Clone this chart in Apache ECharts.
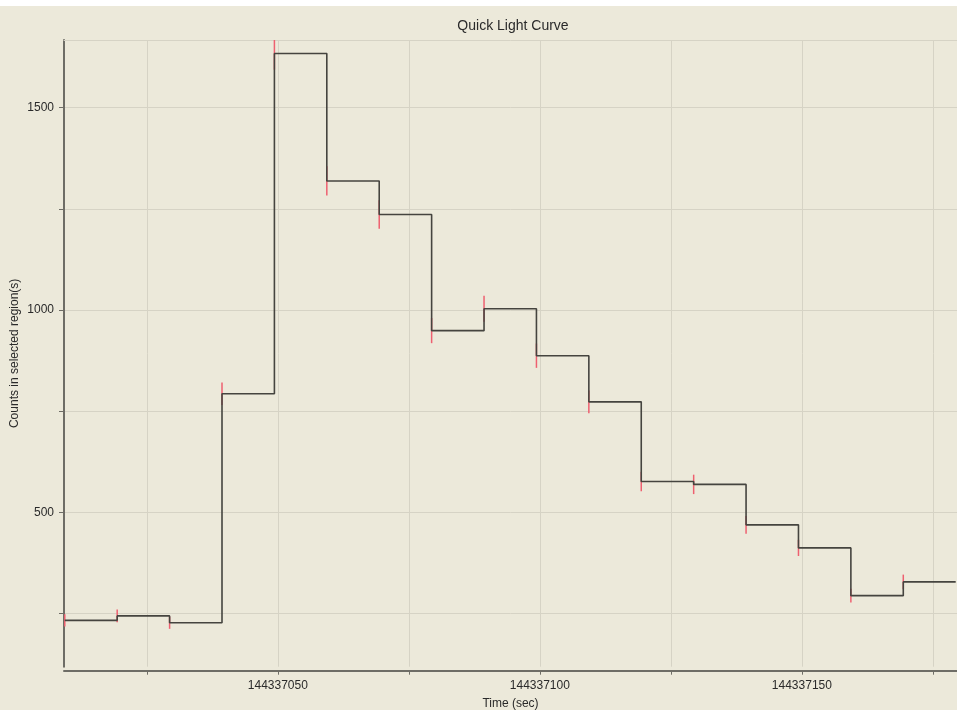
<!DOCTYPE html>
<html>
<head>
<meta charset="utf-8">
<script src="https://cdn.jsdelivr.net/npm/echarts@6/dist/echarts.min.js"></script>
<style>
html, body { margin: 0; padding: 0; background: #fff; }
#main { position: absolute; left: 0; top: 6px; width: 957px; height: 704px; }
</style>
</head>
<body>
<div id="main"></div>
<script>
// bin start times (sec), 10 s bins
var binStart = [144337009.35, 144337019.35, 144337029.35, 144337039.35, 144337049.35,
  144337059.35, 144337069.35, 144337079.35, 144337089.35, 144337099.35, 144337109.35,
  144337119.35, 144337129.35, 144337139.35, 144337149.35, 144337159.35, 144337169.35];
var binEnd = 144337179.35;
// counts per bin
var counts = [233, 244, 227, 793, 1634, 1319, 1236, 949, 1003, 887, 773, 576, 569, 469, 412, 294, 328];
// error bar half-lengths
var errors = [15, 16, 15, 28, 40, 36, 35, 31, 32, 30, 28, 24, 24, 22, 20, 17, 18];
// ticks
var xTicks = [144337025, 144337050, 144337075, 144337100, 144337125, 144337150, 144337175];
var xLabels = [144337050, 144337100, 144337150];
var yTicks = [250, 500, 750, 1000, 1250, 1500];
var yLabels = [500, 1000, 1500];

var chart = echarts.init(document.getElementById('main'));

var stepData = binStart.map(function(t, i) { return [t, counts[i]]; });
stepData.push([binEnd, counts[counts.length - 1]]);
var errData = binStart.map(function(t, i) { return [t, counts[i], errors[i]]; });

var gridColor = '#d6d3c5';
var axisColor = '#6e6d66';
var font = 'Liberation Sans, Arial, sans-serif';

var option = {
  backgroundColor: '#ece9da',
  animation: false,
  title: {
    text: 'Quick Light Curve',
    left: 513,
    top: 13,
    textAlign: 'center',
    padding: 0,
    textStyle: { fontSize: 14, fontWeight: 'normal', color: '#2a2a2a', fontFamily: font }
  },
  grid: { left: 64, right: 0, top: 34, bottom: 43.3, containLabel: false, outerBoundsMode: 'none' },
  xAxis: [{
    type: 'value',
    min: 144337009.2,
    max: 144337179.6,
    offset: 4,
    name: 'Time (sec)',
    nameLocation: 'middle',
    nameGap: 27,
    nameMoveOverlap: false,
    nameTextStyle: { fontSize: 12, color: '#2a2a2a', fontFamily: font },
    axisLine: { show: true, lineStyle: { color: axisColor, width: 2 } },
    axisTick: { show: true, length: 4, customValues: xTicks, lineStyle: { color: axisColor } },
    axisLabel: {
      customValues: xLabels, margin: 9, fontSize: 12, color: '#2a2a2a', fontFamily: font,
      formatter: function(v) { return String(v); }
    },
    splitLine: { show: true, lineStyle: { color: gridColor, width: 1 } }
  }, {
    type: 'value',
    position: 'top',
    min: 144337009.2,
    max: 144337179.6,
    axisLine: { show: true, lineStyle: { color: gridColor, width: 1 } },
    axisTick: { show: false },
    axisLabel: { show: false },
    splitLine: { show: false }
  }],
  yAxis: {
    type: 'value',
    min: 118.4,
    max: 1667.3,
    name: 'Counts in selected region(s)',
    nameLocation: 'middle',
    nameGap: 43,
    nameMoveOverlap: false,
    nameTextStyle: { fontSize: 12, color: '#2a2a2a', fontFamily: font },
    axisLine: { show: true, lineStyle: { color: axisColor, width: 2 } },
    axisTick: { show: true, length: 5, customValues: yTicks, lineStyle: { color: axisColor } },
    axisLabel: {
      customValues: yLabels, margin: 10, fontSize: 12, color: '#2a2a2a', fontFamily: font,
      formatter: function(v) { return String(v); }
    },
    splitLine: { show: true, lineStyle: { color: gridColor, width: 1 } }
  },
  series: [{
    type: 'custom',
    z: 2,
    data: errData,
    renderItem: function(params, api) {
      var x = api.value(0), v = api.value(1), e = api.value(2);
      var p1 = api.coord([x, v - e]);
      var p2 = api.coord([x, v + e]);
      var top = params.coordSys.y;
      return {
        type: 'line',
        shape: { x1: p1[0], y1: p1[1], x2: p2[0], y2: Math.max(p2[1], top) },
        style: { stroke: '#ee6070', lineWidth: 1.5 }
      };
    }
  }, {
    type: 'line',
    z: 3,
    step: 'end',
    data: stepData,
    symbol: 'none',
    lineStyle: { color: '#45443f', width: 1.6 }
  }]
};
chart.setOption(option);
</script>
</body>
</html>
